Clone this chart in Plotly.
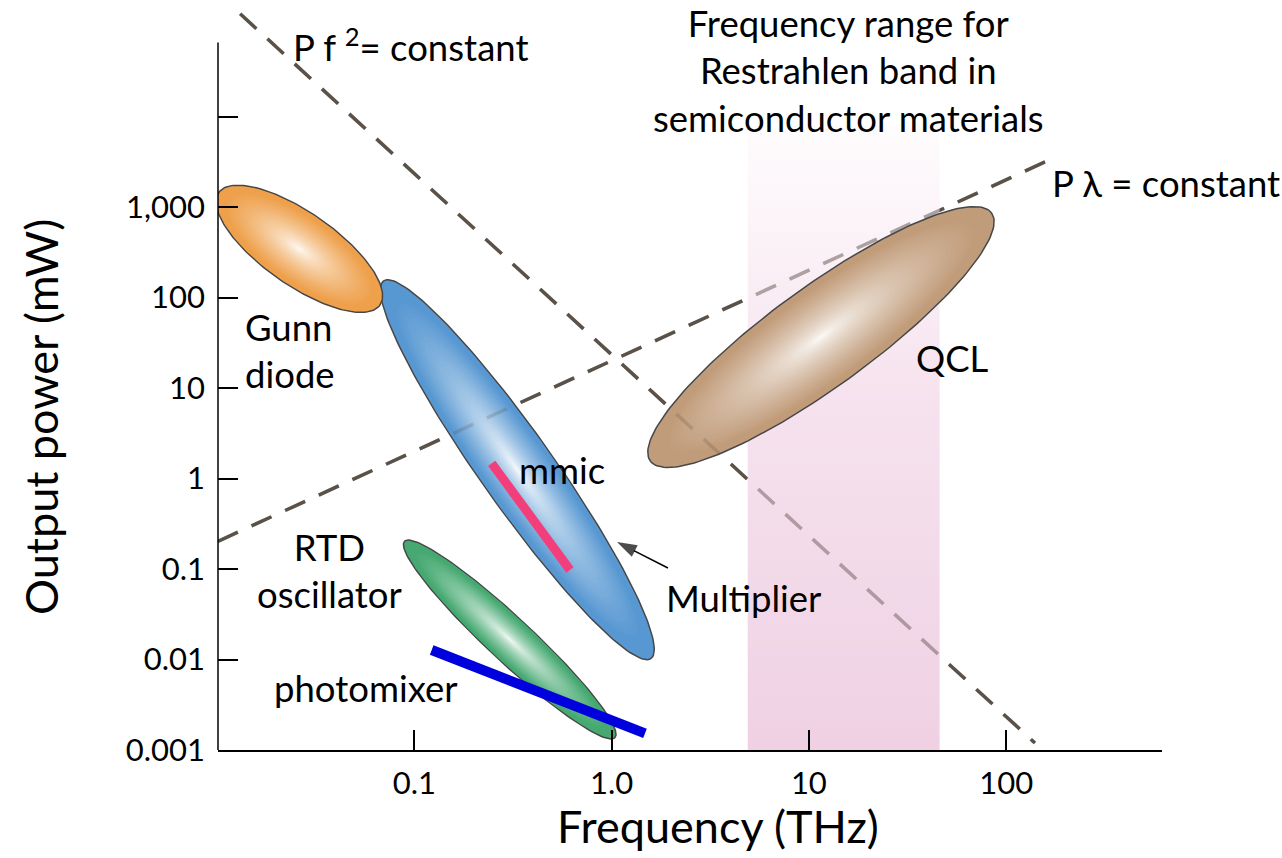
import numpy as np
import plotly.graph_objects as go

# ---------------- data ----------------
# Restrahlen band (THz) and its vertical extent (mW)
band_freq = [4.9, 46.0]
band_power = [0.001, 8000.0]

# Source regions: end points of the long axis (THz, mW) and width relative to length
region_names = ["Multiplier", "Gunn diode", "RTD oscillator", "QCL"]
region_f0 = [0.0699, 0.0102, 0.0892, 1.571]
region_p0 = [152.4, 1443.0, 0.202, 1.561]
region_f1 = [1.584, 0.0670, 1.040, 84.4]
region_p1 = [0.01027, 82.6, 0.00137, 858.6]
region_width = [0.158, 0.37, 0.153, 0.237]
region_colors = ["#5898d2", "#eea04b", "#46a971", "#c19c7a"]

# Single-device results drawn as bars
mmic_freq = [0.2468, 0.6152]
mmic_power = [1.472, 0.0975]
photomixer_freq = [0.1225, 1.477]
photomixer_power = [0.01274, 0.00153]

# Pointer from the "Multiplier" label to its region (THz, mW)
pointer_freq = [1.931, 1.065]
pointer_power = [0.1026, 0.199]

# Scaling laws
pf2_const = 23.4          # P * f^2  (mW THz^2)
pf2_freq = [0.0131, 140.0]
plambda_const = 20.0      # P / f    (mW / THz), i.e. P * lambda = const
plambda_freq = [0.0101, 158.0]

x_tick_vals = [0.1, 1, 10, 100]
x_tick_text = ["0.1", "1.0", "10", "100"]
y_tick_vals = [0.001, 0.01, 0.1, 1, 10, 100, 1000]
y_tick_text = ["0.001", "0.01", "0.1", "1", "10", "100", "1,000"]
y_unlabelled_ticks = [10000]
y_axis_top = 65800.0

# ---------------- layout geometry ----------------
W, H = 1282, 858
ML, MR, MT, MB = 218, 120, 8, 108
x_range = [-1.995, 2.790]
y_range = [-3.0, 5.199]
kx = (W - ML - MR) / (x_range[1] - x_range[0])   # px per decade
ky = (H - MT - MB) / (y_range[1] - y_range[0])

FONT = "Lato, 'Open Sans', sans-serif"
TXT = "#000000"
LINE_COL = "#5a5148"
DASH = "22px,15px"


def hex_rgb(h):
    h = h.lstrip("#")
    return np.array([int(h[i:i + 2], 16) for i in (0, 2, 4)], dtype=float)


def ellipse(f0, p0, f1, p1, ratio, scale, n=180):
    X0, Y0 = np.log10(f0) * kx, np.log10(p0) * ky
    X1, Y1 = np.log10(f1) * kx, np.log10(p1) * ky
    cx, cy = (X0 + X1) / 2, (Y0 + Y1) / 2
    half = np.hypot(X1 - X0, Y1 - Y0) / 2
    a, b = half * scale, half * ratio * scale
    phi = np.arctan2(Y1 - Y0, X1 - X0)
    t = np.linspace(0, 2 * np.pi, n)
    u, v = a * np.cos(t), b * np.sin(t)
    X = cx + u * np.cos(phi) - v * np.sin(phi)
    Y = cy + u * np.sin(phi) + v * np.cos(phi)
    return 10 ** (X / kx), 10 ** (Y / ky)


def law_lines(opacity):
    fx = np.array(pf2_freq)
    lx = np.array(plambda_freq)
    return [
        go.Scatter(x=fx, y=pf2_const / fx ** 2, mode="lines", opacity=opacity,
                   line=dict(color=LINE_COL, width=3.5, dash=DASH),
                   hoverinfo="skip", showlegend=False),
        go.Scatter(x=lx, y=plambda_const * lx, mode="lines", opacity=opacity,
                   line=dict(color=LINE_COL, width=3.5, dash=DASH),
                   hoverinfo="skip", showlegend=False),
    ]


fig = go.Figure()

# scaling-law guide lines
for tr in law_lines(1.0):
    fig.add_trace(tr)

# Restrahlen band
fig.add_trace(go.Scatter(
    x=[band_freq[0], band_freq[1], band_freq[1], band_freq[0], band_freq[0]],
    y=[band_power[0], band_power[0], band_power[1], band_power[1], band_power[0]],
    mode="lines", fill="toself", line=dict(width=0),
    fillcolor="rgba(240,210,228,0.75)",
    fillgradient=dict(type="vertical", colorscale=[
        [0.0, "rgba(234,194,218,0.76)"],
        [0.6, "rgba(243,218,233,0.74)"],
        [1.0, "rgba(254,250,252,0.6)"]]),
    hoverinfo="skip", showlegend=False))

# regions with a light centre fading to the region colour
N_LAYERS = 40
white = np.array([255.0, 255.0, 255.0])
for name, f0, p0, f1, p1, r, col in zip(region_names, region_f0, region_p0,
                                        region_f1, region_p1, region_width,
                                        region_colors):
    base = hex_rgb(col)
    for k in range(N_LAYERS):
        s = 1 - k / N_LAYERS
        w = min(1.0, s / 0.9) ** 0.7
        c = white * (1 - w) + base * w
        ex, ey = ellipse(f0, p0, f1, p1, r, s)
        fig.add_trace(go.Scatter(
            x=ex, y=ey, mode="lines", fill="toself",
            fillcolor="rgb(%d,%d,%d)" % tuple(c.round()),
            line=dict(color="#474747", width=1.5) if k == 0 else dict(width=0),
            name=name, hoverinfo="skip", showlegend=False))

# guide lines seen faintly through the regions
for tr in law_lines(0.22):
    fig.add_trace(tr)

# device bars
fig.add_trace(go.Scatter(x=mmic_freq, y=mmic_power, mode="lines",
                         line=dict(color="#f23f7c", width=9),
                         hoverinfo="skip", showlegend=False))
fig.add_trace(go.Scatter(x=photomixer_freq, y=photomixer_power, mode="lines",
                         line=dict(color="#0000dc", width=10),
                         hoverinfo="skip", showlegend=False))

# pointer arrow
fig.add_trace(go.Scatter(x=pointer_freq, y=pointer_power, mode="lines+markers",
                         line=dict(color="#000000", width=1.5),
                         marker=dict(symbol=["circle", "arrow"], size=[0, 21],
                                     angleref="previous", color="#000000",
                                     line=dict(width=0)),
                         hoverinfo="skip", showlegend=False))


def label(text, f, p, size=36.5, xanchor="center", align="center"):
    return dict(text=text, x=np.log10(f), y=np.log10(p), xref="x", yref="y",
                showarrow=False, xanchor=xanchor, yanchor="middle", align=align,
                font=dict(family=FONT, size=size, color=TXT))


annotations = [
    label("P f <sup>2</sup>= constant", 10 ** -1.625, 10 ** 4.79, xanchor="left"),
    label("P \u03bb = constant", 10 ** 2.222, 10 ** 3.265, xanchor="left"),
    label("Frequency range for<br>Restrahlen band in<br>semiconductor materials",
          10 ** 1.2023, 10 ** 4.503),
    label("Gunn<br>diode", 10 ** -1.868, 10 ** 1.42, xanchor="left", align="left"),
    label("mmic", 10 ** -0.2514, 10 ** 0.0939),
    label("RTD<br>oscillator", 10 ** -1.4273, 10 ** -1.022),
    label("photomixer", 10 ** -1.245, 10 ** -2.315),
    label("Multiplier", 10 ** 0.6702, 10 ** -1.32),
    label("QCL", 10 ** 1.7303, 10 ** 1.3315),
    dict(text="Frequency (THz)", x=(718 - ML) / (W - ML - MR),
         y=-(826 - (H - MB)) / (H - MT - MB), xref="paper", yref="paper",
         showarrow=False, xanchor="center", yanchor="middle",
         font=dict(family=FONT, size=45, color=TXT)),
    dict(text="Output power (mW)", x=(41 - ML) / (W - ML - MR),
         y=((H - MB) - 417) / (H - MT - MB), xref="paper", yref="paper",
         showarrow=False, xanchor="center", yanchor="middle", textangle=-90,
         font=dict(family=FONT, size=45, color=TXT)),
]

y_top_frac = (np.log10(y_axis_top) - y_range[0]) / (y_range[1] - y_range[0])

fig.update_layout(
    width=W, height=H,
    margin=dict(l=ML, r=MR, t=MT, b=MB),
    paper_bgcolor="white", plot_bgcolor="white",
    showlegend=False,
    annotations=annotations,
    shapes=[dict(type="line", xref="paper", yref="paper", x0=0, x1=0,
                 y0=0, y1=y_top_frac, line=dict(color="#000000", width=1.5))],
    xaxis=dict(type="log", range=x_range, showgrid=False, zeroline=False,
               showline=True, linecolor="#000000", linewidth=1.5,
               tickvals=x_tick_vals, ticktext=x_tick_text,
               ticks="inside", ticklen=20, tickwidth=1.5, tickcolor="#000000",
               ticklabelstandoff=5,
               tickfont=dict(family=FONT, size=31, color=TXT)),
    yaxis=dict(type="log", range=y_range, showgrid=False, zeroline=False,
               showline=False,
               tickvals=y_tick_vals, ticktext=y_tick_text,
               ticks="inside", ticklen=20, tickwidth=1.5, tickcolor="#000000",
               minor=dict(tickmode="array", tickvals=y_unlabelled_ticks,
                          ticks="inside", ticklen=20, tickwidth=1.5,
                          tickcolor="#000000", showgrid=False),
               ticklabelstandoff=12,
               tickfont=dict(family=FONT, size=31, color=TXT)),
)

fig.write_html("out.html")
